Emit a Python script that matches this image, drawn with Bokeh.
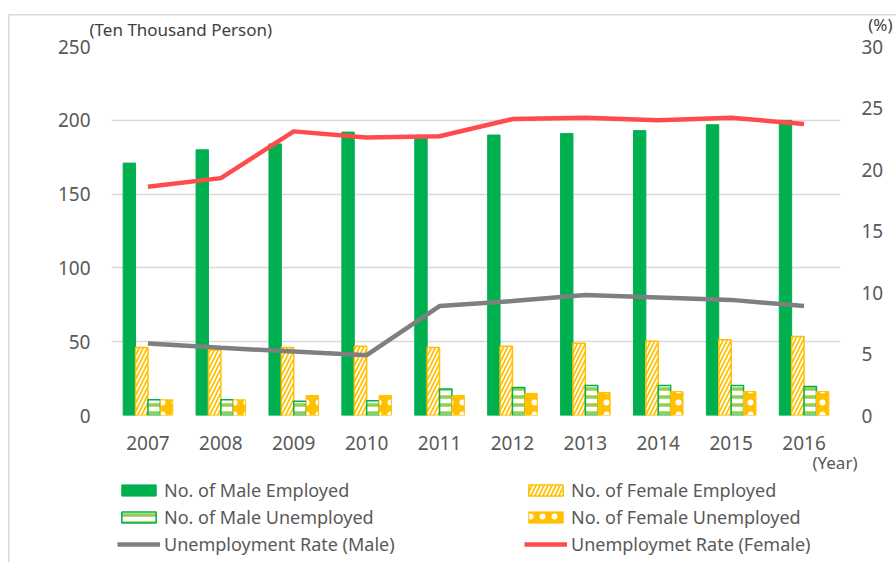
from bokeh.plotting import figure
from bokeh.layouts import column
from bokeh.models import (Range1d, LinearAxis, FactorRange, Legend, LegendItem,
                          Title, ColumnDataSource, FixedTicker)
from bokeh.transform import dodge
from bokeh.embed import file_html
from bokeh.resources import INLINE

years = ["2007", "2008", "2009", "2010", "2011", "2012", "2013", "2014", "2015", "2016"]
male_employed = [171, 180, 184, 192, 188, 190, 191, 193, 197, 200]
female_employed = [46, 44.5, 46, 47, 46, 47, 49, 50.3, 51.3, 53.5]
male_unemployed = [10.6, 10.6, 9.7, 10, 18, 19, 20.3, 20.3, 20.3, 19.6]
female_unemployed = [10.6, 10.6, 13.5, 13.5, 13.5, 15, 15.6, 16.2, 16.2, 16.2]
rate_male = [5.85, 5.5, 5.2, 4.9, 8.9, 9.3, 9.8, 9.6, 9.4, 8.9]
rate_female = [18.6, 19.3, 23.1, 22.6, 22.7, 24.1, 24.2, 24.0, 24.2, 23.7]
left_ticks = [0, 50, 100, 150, 200, 250]
right_ticks = [0, 5, 10, 15, 20, 25, 30]

FONT = "Noto Sans"
TXT = "#595959"
DARK = "#404040"
GREEN = "#00B050"
LGREEN = "#92D050"
YELLOW = "#FFC000"
GREY = "#7F7F7F"
RED = "#FF4B4B"
BORDER = "#D9D9D9"

STYLES = dict(
    me=dict(fill_color=GREEN, line_color=GREEN),
    fe=dict(fill_color=YELLOW, line_color=YELLOW, line_width=1.5,
            hatch_pattern="/", hatch_color="white", hatch_scale=8, hatch_weight=1.8),
    mu=dict(fill_color="white", line_color=GREEN, line_width=1.5,
            hatch_pattern="-", hatch_color=LGREEN, hatch_scale=8, hatch_weight=3.5),
    fu=dict(fill_color=YELLOW, line_color=YELLOW,
            hatch_pattern=".", hatch_color="white", hatch_scale=12, hatch_weight=1),
    rm=dict(line_color=GREY, line_width=4.5),
    rf=dict(line_color=RED, line_width=4.5),
)

def border_bg(top_px=None):
    start = "%dpx" % top_px if top_px is not None else "0px"
    bg = "linear-gradient(%s,%s) 8px %s / 1.5px 100%% no-repeat" % (BORDER, BORDER, start)
    if top_px is not None:
        bg += ", linear-gradient(%s,%s) 8px %dpx / 100%% 1.5px no-repeat" % (BORDER, BORDER, top_px)
    return {"background": bg}

src = ColumnDataSource(dict(years=years, me=male_employed, fe=female_employed,
                            mu=male_unemployed, fu=female_unemployed,
                            rm=rate_male, rf=rate_female))

def add_series(fig):
    bw = 0.17
    r = {}
    r["me"] = fig.vbar(x=dodge("years", -0.255, range=fig.x_range), top="me", width=bw,
                       source=src, **STYLES["me"])
    r["fe"] = fig.vbar(x=dodge("years", -0.085, range=fig.x_range), top="fe", width=bw,
                       source=src, **STYLES["fe"])
    r["mu"] = fig.vbar(x=dodge("years", 0.085, range=fig.x_range), top="mu", width=bw,
                       source=src, **STYLES["mu"])
    r["fu"] = fig.vbar(x=dodge("years", 0.255, range=fig.x_range), top="fu", width=bw,
                       source=src, **STYLES["fu"])
    r["rm"] = fig.line(x="years", y="rm", source=src, y_range_name="rate", **STYLES["rm"])
    r["rf"] = fig.line(x="years", y="rf", source=src, y_range_name="rate", **STYLES["rf"])
    return r

# ---------- main chart ----------
p = figure(x_range=FactorRange(*years), y_range=Range1d(0, 250),
           width=896, height=476, output_backend="svg", toolbar_location=None,
           min_border_left=111, min_border_right=56, min_border_top=46,
           min_border_bottom=61, title=None)
p.outline_line_color = None
p.border_fill_color = None
p.background_fill_color = None
p.styles = border_bg(14)
p.extra_y_ranges = {"rate": Range1d(0, 30)}
add_series(p)

p.xgrid.grid_line_color = None
p.ygrid.grid_line_color = BORDER
p.ygrid.grid_line_width = 1.5
p.ygrid.ticker = FixedTicker(ticks=left_ticks)

def style_axis(ax, standoff):
    ax.axis_line_color = None
    ax.major_tick_line_color = None
    ax.minor_tick_line_color = None
    ax.major_label_text_color = TXT
    ax.major_label_text_font = FONT
    ax.major_label_text_font_size = "19px"
    ax.major_label_standoff = standoff

style_axis(p.xaxis[0], 14)
style_axis(p.yaxis[0], 15)
p.yaxis[0].ticker = FixedTicker(ticks=left_ticks)

rax = LinearAxis(y_range_name="rate", ticker=FixedTicker(ticks=right_ticks))
style_axis(rax, 15)
p.add_layout(rax, "right")

p.add_layout(Title(text="(Ten Thousand Person)", align="left", offset=-22, standoff=12,
                   text_font=FONT, text_font_size="17px", text_font_style="normal",
                   text_color=DARK), "above")
p.add_layout(Title(text="(%)", align="right", offset=-52, standoff=-52,
                   text_font=FONT, text_font_size="17px", text_font_style="normal",
                   text_color=DARK), "above")
p.add_layout(Title(text="(Year)", align="right", offset=-17, standoff=-7,
                   text_font=FONT, text_font_size="17px", text_font_style="normal",
                   text_color=TXT), "below")

# ---------- legend strip (same series as hidden renderers, legend only) ----------
bot = figure(x_range=FactorRange(*years), y_range=Range1d(0, 250),
             width=896, height=86, output_backend="svg", toolbar_location=None,
             x_axis_type=None, y_axis_type=None, min_border_left=111,
             min_border_right=56, min_border_top=0, min_border_bottom=0, title=None)
bot.outline_line_color = None
bot.border_fill_color = None
bot.background_fill_color = None
bot.grid.visible = False
bot.styles = border_bg()
bot.extra_y_ranges = {"rate": Range1d(0, 30)}
lr = add_series(bot)
for rr in lr.values():
    rr.visible = False

def make_legend(keys, labels, x):
    lg = Legend(items=[LegendItem(label=t, renderers=[lr[k]]) for k, t in zip(keys, labels)],
                location=(x, 6), orientation="vertical",
                padding=0, margin=0, spacing=3, label_height=24,
                glyph_width=43, glyph_height=14, label_standoff=4,
                label_text_font=FONT, label_text_font_size="18px",
                label_text_color=TXT, background_fill_alpha=0,
                inactive_fill_alpha=0, border_line_color=None)
    bot.add_layout(lg, "center")

make_legend(["me", "mu", "rm"],
            ["No. of Male Employed", "No. of Male Unemployed", "Unemployment Rate (Male)"], 6)
make_legend(["fe", "fu", "rf"],
            ["No. of Female Employed", "No. of Female Unemployed", "Unemploymet Rate (Female)"], 413)

layout = column(p, bot, spacing=0)
open("out.html", "w").write(file_html(layout, INLINE))
